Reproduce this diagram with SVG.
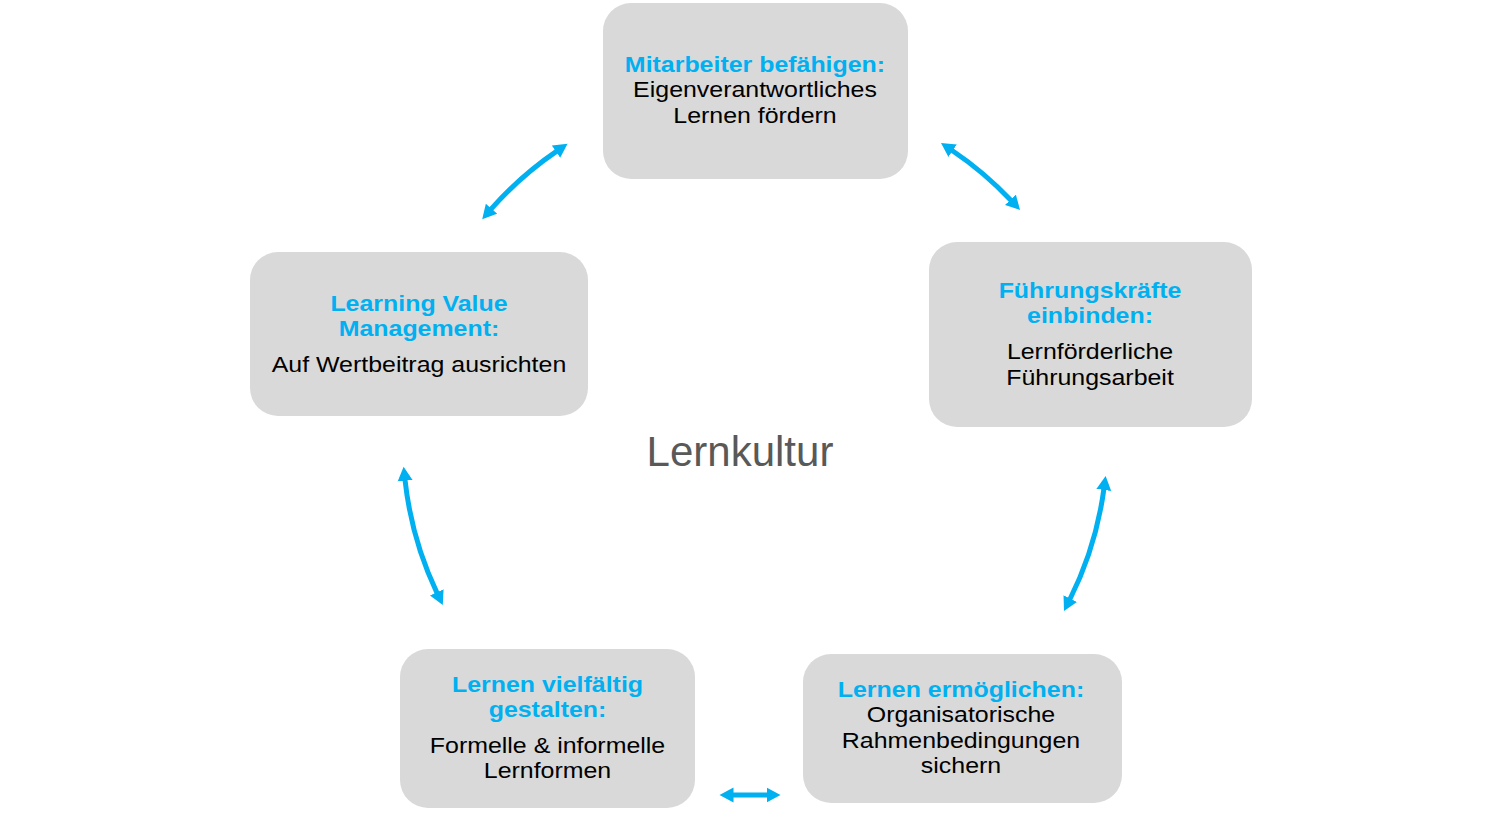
<svg xmlns="http://www.w3.org/2000/svg" width="1501" height="828" viewBox="0 0 1501 828">
<style>
.box{fill:#d9d9d9}
.t{font-family:"Liberation Sans",Arial,sans-serif;font-size:21.4px;text-anchor:middle}
.h{fill:#00b0f0;font-weight:bold}
.b{fill:#000000}
.arr{fill:none;stroke:#00b0f0;stroke-width:5;marker-start:url(#ah);marker-end:url(#ah)}
.title{font-family:"Liberation Sans",Arial,sans-serif;font-size:42px;fill:#595959;text-anchor:middle}
</style>
<defs>
<marker id="ah" markerUnits="userSpaceOnUse" markerWidth="16" markerHeight="16" viewBox="0 -8 16 16" refX="1" refY="0" orient="auto-start-reverse">
<path d="M0,-7.5 L14,0 L0,7.5 Z" fill="#00b0f0"/>
</marker>
</defs>
<rect width="1501" height="828" fill="#ffffff"/>
<g id="connectors">
<path class="arr" d="M490.8,209.4 A352,352 0 0 1 556.8,151.1"/>
<path class="arr" d="M951.8,150.2 A352,352 0 0 1 1011.1,200.5"/>
<path class="arr" d="M1103.9,488.9 A352,352 0 0 1 1069.8,599.5"/>
<path class="arr" d="M732.5,795 L767.5,795"/>
<path class="arr" d="M437.2,593.3 A352,352 0 0 1 405.0,479.7"/>
</g>
<g id="node-top">
<rect class="box" x="603" y="3" width="305" height="176" rx="28"/>
<text class="t" transform="translate(755 0) scale(1.165 1)"><tspan class="h" x="0" y="72">Mitarbeiter befähigen:</tspan><tspan class="b" x="0" y="97.5">Eigenverantwortliches</tspan><tspan class="b" x="0" y="123">Lernen fördern</tspan></text>
</g>
<g id="node-right">
<rect class="box" x="929" y="242" width="323" height="185" rx="28"/>
<text class="t" transform="translate(1090 0) scale(1.165 1)"><tspan class="h" x="0" y="298">Führungskräfte</tspan><tspan class="h" x="0" y="323">einbinden:</tspan><tspan class="b" x="0" y="359">Lernförderliche</tspan><tspan class="b" x="0" y="385">Führungsarbeit</tspan></text>
</g>
<g id="node-bottom-right">
<rect class="box" x="803" y="654" width="319" height="149" rx="28"/>
<text class="t" transform="translate(961 0) scale(1.165 1)"><tspan class="h" x="0" y="697">Lernen ermöglichen:</tspan><tspan class="b" x="0" y="722.5">Organisatorische</tspan><tspan class="b" x="0" y="748">Rahmenbedingungen</tspan><tspan class="b" x="0" y="773.5">sichern</tspan></text>
</g>
<g id="node-bottom-left">
<rect class="box" x="400" y="649" width="295" height="159" rx="28"/>
<text class="t" transform="translate(547.5 0) scale(1.165 1)"><tspan class="h" x="0" y="692">Lernen vielfältig</tspan><tspan class="h" x="0" y="717">gestalten:</tspan><tspan class="b" x="0" y="753">Formelle &amp; informelle</tspan><tspan class="b" x="0" y="778.5">Lernformen</tspan></text>
</g>
<g id="node-left">
<rect class="box" x="250" y="252" width="338" height="164" rx="28"/>
<text class="t" transform="translate(419 0) scale(1.165 1)"><tspan class="h" x="0" y="311">Learning Value</tspan><tspan class="h" x="0" y="336">Management:</tspan><tspan class="b" x="0" y="372">Auf Wertbeitrag ausrichten</tspan></text>
</g>
<g id="center-label">
<text class="title" x="740" y="466">Lernkultur</text>
</g>
</svg>
